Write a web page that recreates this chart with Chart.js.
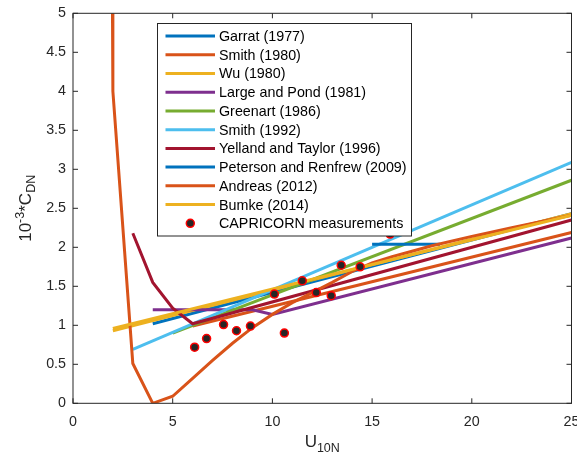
<!DOCTYPE html>
<html>
<head>
<meta charset="utf-8">
<script src="https://cdn.jsdelivr.net/npm/chart.js@4.4.1/dist/chart.umd.min.js"></script>
<style>
  html, body { margin: 0; padding: 0; background: #fff; }
  canvas { display: block; }
</style>
</head>
<body>
<canvas id="cdChart" width="577" height="460"></canvas>
<script>
// drag coefficient parameterisations, U10N in m/s, CDN in 1e-3
const garratU = [4, 25];
const garratC = [1.02, 2.43];
const smith80U = [6, 25];
const smith80C = [0.99, 2.19];
const wuU = [2, 25];
const wuC = [0.93, 2.43];
const largePondU = [4, 9, 10, 25];
const largePondC = [1.2, 1.2, 1.14, 2.12];
const greenartU = [5, 25];
const greenartC = [0.9, 2.86];
const smith92U = [3, 25];
const smith92C = [0.69, 3.09];
const yellandU = [3, 4, 5, 6, 25];
const yellandC = [2.18, 1.55, 1.22, 1.02, 2.35];
const petersonU = [15, 18.4];
const petersonC = [2.04, 2.04];
const andreasU = [1.98, 2, 3, 4, 5, 6, 7, 8, 9, 10, 11, 12, 13, 14, 15, 16, 17, 18, 20, 22, 25];
const andreasC = [5, 4.0, 0.51, 0, 0.09, 0.32, 0.55, 0.77, 0.97, 1.14, 1.29, 1.42, 1.55, 1.69, 1.80, 1.88, 1.95, 2.02, 2.14, 2.25, 2.41];
const bumkeU = [2, 25];
const bumkeC = [0.96, 2.41];

// CAPRICORN bulk estimates
const capU = [6.1, 6.7, 7.55, 8.2, 8.9, 10.1, 10.6, 11.5, 12.2, 12.95, 13.45, 14.4, 15.9];
const capC = [0.72, 0.83, 1.01, 0.93, 0.99, 1.40, 0.90, 1.57, 1.42, 1.38, 1.77, 1.75, 2.17];

const xTicks = [0, 5, 10, 15, 20, 25];
const xTickLabels = ['0', '5', '10', '15', '20', '25'];
const yTicks = [0, 0.5, 1, 1.5, 2, 2.5, 3, 3.5, 4, 4.5, 5];
const yTickLabels = ['0', '0.5', '1', '1.5', '2', '2.5', '3', '3.5', '4', '4.5', '5'];

const BLUE = '#0072BD', ORANGE = '#D95319', YELLOW = '#EDB120', PURPLE = '#7E2F8E',
      GREEN = '#77AC30', CYAN = '#4DBEEE', RED = '#A2142F';

const FONT = '"Liberation Sans", Arial, Helvetica, sans-serif';

function pts(us, cs) {
  return us.map((u, i) => ({ x: u, y: cs[i] }));
}

const curves = [
  ['Garrat (1977)', garratU, garratC, BLUE],
  ['Smith (1980)', smith80U, smith80C, ORANGE],
  ['Wu (1980)', wuU, wuC, YELLOW],
  ['Large and Pond (1981)', largePondU, largePondC, PURPLE],
  ['Greenart (1986)', greenartU, greenartC, GREEN],
  ['Smith (1992)', smith92U, smith92C, CYAN],
  ['Yelland and Taylor (1996)', yellandU, yellandC, RED],
  ['Peterson and Renfrew (2009)', petersonU, petersonC, BLUE],
  ['Andreas (2012)', andreasU, andreasC, ORANGE],
  ['Bumke (2014)', bumkeU, bumkeC, YELLOW]
];

const datasets = curves.map(([label, us, cs, color], i) => ({
  label: label,
  data: pts(us, cs),
  showLine: true,
  borderColor: color,
  backgroundColor: color,
  borderWidth: 3,
  pointRadius: 0,
  pointHoverRadius: 0,
  borderJoinStyle: 'miter',
  order: 50 - i
}));

datasets.push({
  label: 'CAPRICORN measurements',
  data: pts(capU, capC),
  showLine: false,
  pointRadius: 4,
  pointBorderWidth: 1.5,
  pointBackgroundColor: '#262626',
  pointBorderColor: '#FF0000',
  order: 0
});

// MATLAB-style box with inward ticks, tick labels and axis titles
const axesBox = {
  id: 'axesBox',
  afterDatasetsDraw(chart) {
    const { ctx, chartArea: a, scales: { x, y } } = chart;
    ctx.save();
    ctx.strokeStyle = '#262626';
    ctx.lineWidth = 1;
    ctx.strokeRect(a.left, a.top, a.right - a.left, a.bottom - a.top);

    const len = 5;
    ctx.beginPath();
    xTicks.forEach(v => {
      const px = x.getPixelForValue(v);
      ctx.moveTo(px, a.bottom); ctx.lineTo(px, a.bottom - len);
      ctx.moveTo(px, a.top); ctx.lineTo(px, a.top + len);
    });
    yTicks.forEach(v => {
      const py = y.getPixelForValue(v);
      ctx.moveTo(a.left, py); ctx.lineTo(a.left + len, py);
      ctx.moveTo(a.right, py); ctx.lineTo(a.right - len, py);
    });
    ctx.stroke();

    ctx.fillStyle = '#262626';
    ctx.font = '14.3px ' + FONT;
    ctx.textAlign = 'center';
    ctx.textBaseline = 'alphabetic';
    xTicks.forEach((v, i) => {
      ctx.fillText(xTickLabels[i], x.getPixelForValue(v), a.bottom + 23);
    });
    ctx.textAlign = 'right';
    ctx.textBaseline = 'middle';
    yTicks.forEach((v, i) => {
      ctx.fillText(yTickLabels[i], a.left - 7, y.getPixelForValue(v));
    });

    // x title: U with subscript 10N
    const big = '17px ' + FONT, small = '12.5px ' + FONT;
    ctx.textAlign = 'left';
    ctx.textBaseline = 'alphabetic';
    ctx.font = big;
    const wU = ctx.measureText('U').width;
    ctx.font = small;
    const wSub = ctx.measureText('10N').width;
    let sx = (a.left + a.right) / 2 - (wU + wSub) / 2;
    const base = 447;
    ctx.font = big;
    ctx.fillText('U', sx, base);
    ctx.font = small;
    ctx.fillText('10N', sx + wU, base + 5);

    // y title: 10^-3*C_DN, rotated
    const parts = [['10', big, 0], ['-3', small, -7], ['*C', big, 0], ['DN', small, 4]];
    let total = 0;
    parts.forEach(p => { ctx.font = p[1]; total += ctx.measureText(p[0]).width; });
    ctx.translate(31, (a.top + a.bottom) / 2);
    ctx.rotate(-Math.PI / 2);
    let tx = -total / 2;
    parts.forEach(p => {
      ctx.font = p[1];
      ctx.fillText(p[0], tx, p[2]);
      tx += ctx.measureText(p[0]).width;
    });
    ctx.restore();
  }
};

// legend box inside the axes, upper left
const boxLegend = {
  id: 'boxLegend',
  afterDraw(chart) {
    const { ctx } = chart;
    const left = 157.5, top = 23.5, right = 411.5, bottom = 236;
    const rowTop = 36, rowStep = 18.73;
    ctx.save();
    ctx.fillStyle = '#fff';
    ctx.fillRect(left, top, right - left, bottom - top);
    ctx.strokeStyle = '#262626';
    ctx.lineWidth = 1;
    ctx.strokeRect(left, top, right - left, bottom - top);
    ctx.font = '14.3px ' + FONT;
    ctx.textBaseline = 'middle';
    ctx.textAlign = 'left';
    chart.data.datasets.forEach((ds, i) => {
      const yy = rowTop + i * rowStep;
      if (ds.showLine) {
        ctx.strokeStyle = ds.borderColor;
        ctx.lineWidth = ds.borderWidth;
        ctx.beginPath();
        ctx.moveTo(165.5, yy);
        ctx.lineTo(215, yy);
        ctx.stroke();
      } else {
        ctx.beginPath();
        ctx.arc(190.3, yy, ds.pointRadius, 0, Math.PI * 2);
        ctx.fillStyle = ds.pointBackgroundColor;
        ctx.fill();
        ctx.lineWidth = ds.pointBorderWidth;
        ctx.strokeStyle = ds.pointBorderColor;
        ctx.stroke();
      }
      ctx.fillStyle = '#000';
      ctx.fillText(ds.label, 219, yy + 1);
    });
    ctx.restore();
  }
};

const ctx = document.getElementById('cdChart').getContext('2d');
const cdChart = new Chart(ctx, {
  type: 'scatter',
  data: { datasets: datasets },
  options: {
    responsive: false,
    animation: false,
    layout: { padding: { top: 13.3, right: 4.5, left: 0, bottom: 0 } },
    plugins: {
      legend: { display: false },
      tooltip: { enabled: false }
    },
    scales: {
      x: {
        type: 'linear',
        min: 0,
        max: 25,
        ticks: { display: false },
        grid: { display: false },
        border: { display: false },
        afterFit: s => { s.height = 56.7; }
      },
      y: {
        type: 'linear',
        min: 0,
        max: 5,
        ticks: { display: false },
        grid: { display: false },
        border: { display: false },
        afterFit: s => { s.width = 73; }
      }
    }
  },
  plugins: [axesBox, boxLegend]
});
</script>
</body>
</html>
